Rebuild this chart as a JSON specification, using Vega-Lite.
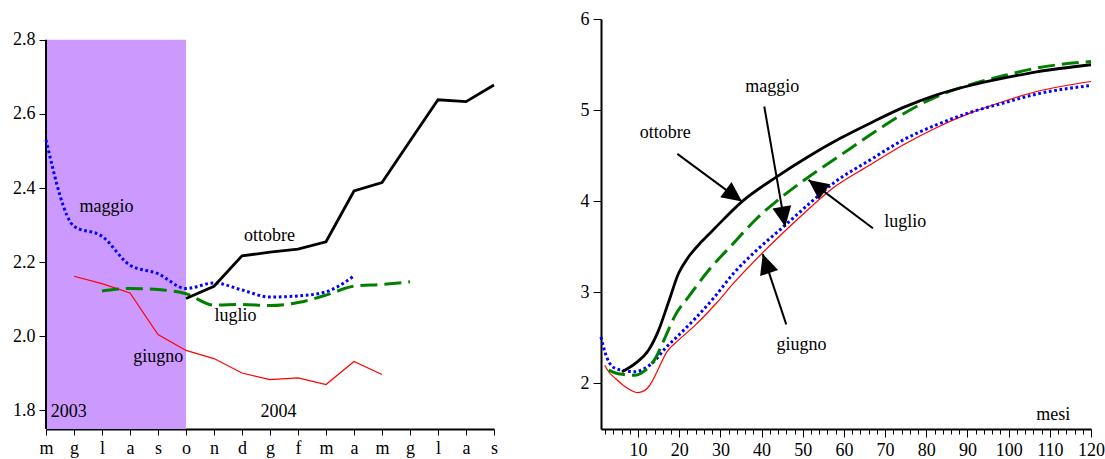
{
  "$schema": "https://vega.github.io/schema/vega-lite/v6.json",
  "background": "white",
  "padding": {"left": 12, "top": 10, "right": 0, "bottom": 0},
  "bounds": "flush",
  "spacing": 107,
  "config": {
    "font": "Liberation Serif",
    "view": {"stroke": null},
    "axis": {
      "labelFont": "Liberation Serif",
      "labelFontSize": 18,
      "labelColor": "#000",
      "tickColor": "#000",
      "domainColor": "#000",
      "domainWidth": 2,
      "tickWidth": 1,
      "grid": false,
      "title": null,
      "labelFlush": false,
      "labelOverlap": false
    },
    "text": {"font": "Liberation Serif", "fontSize": 18, "color": "#000"}
  },
  "datasets": {
    "periodo": [
      {"anno": "2003", "pos": 0, "pos_fine": 5, "valore": 2.8, "valore_fine": 1.75}
    ],
    "asse_sx": [
      {"pos": 0, "valore": 1.75, "valore_fine": 2.8}
    ],
    "sinistra": [
      {"serie": "maggio", "pos": 0, "valore": 2.53},
      {"serie": "maggio", "pos": 1, "valore": 2.297},
      {"serie": "maggio", "pos": 2, "valore": 2.27},
      {"serie": "maggio", "pos": 3, "valore": 2.192},
      {"serie": "maggio", "pos": 4, "valore": 2.169},
      {"serie": "maggio", "pos": 5, "valore": 2.129},
      {"serie": "maggio", "pos": 6, "valore": 2.144},
      {"serie": "maggio", "pos": 7, "valore": 2.125},
      {"serie": "maggio", "pos": 8, "valore": 2.106},
      {"serie": "maggio", "pos": 9, "valore": 2.109},
      {"serie": "maggio", "pos": 10, "valore": 2.12},
      {"serie": "maggio", "pos": 11, "valore": 2.163},
      {"serie": "luglio", "pos": 2, "valore": 2.122},
      {"serie": "luglio", "pos": 3, "valore": 2.129},
      {"serie": "luglio", "pos": 4, "valore": 2.126},
      {"serie": "luglio", "pos": 5, "valore": 2.115},
      {"serie": "luglio", "pos": 6, "valore": 2.084},
      {"serie": "luglio", "pos": 7, "valore": 2.086},
      {"serie": "luglio", "pos": 8, "valore": 2.083},
      {"serie": "luglio", "pos": 9, "valore": 2.091},
      {"serie": "luglio", "pos": 10, "valore": 2.111},
      {"serie": "luglio", "pos": 11, "valore": 2.135},
      {"serie": "luglio", "pos": 12, "valore": 2.14},
      {"serie": "luglio", "pos": 13, "valore": 2.147},
      {"serie": "ottobre", "pos": 5, "valore": 2.102},
      {"serie": "ottobre", "pos": 6, "valore": 2.135},
      {"serie": "ottobre", "pos": 7, "valore": 2.217},
      {"serie": "ottobre", "pos": 8, "valore": 2.227},
      {"serie": "ottobre", "pos": 9, "valore": 2.235},
      {"serie": "ottobre", "pos": 10, "valore": 2.255},
      {"serie": "ottobre", "pos": 11, "valore": 2.392},
      {"serie": "ottobre", "pos": 12, "valore": 2.415},
      {"serie": "ottobre", "pos": 13, "valore": 2.527},
      {"serie": "ottobre", "pos": 14, "valore": 2.638},
      {"serie": "ottobre", "pos": 15, "valore": 2.633},
      {"serie": "ottobre", "pos": 16, "valore": 2.678},
      {"serie": "giugno", "pos": 1, "valore": 2.162},
      {"serie": "giugno", "pos": 2, "valore": 2.142},
      {"serie": "giugno", "pos": 3, "valore": 2.117},
      {"serie": "giugno", "pos": 4, "valore": 2.005},
      {"serie": "giugno", "pos": 5, "valore": 1.962},
      {"serie": "giugno", "pos": 6, "valore": 1.94},
      {"serie": "giugno", "pos": 7, "valore": 1.901},
      {"serie": "giugno", "pos": 8, "valore": 1.883},
      {"serie": "giugno", "pos": 9, "valore": 1.888},
      {"serie": "giugno", "pos": 10, "valore": 1.87},
      {"serie": "giugno", "pos": 11, "valore": 1.932},
      {"serie": "giugno", "pos": 12, "valore": 1.897}
    ],
    "etichette_sx": [
      {"testo": "maggio", "pos": 2.16, "valore": 2.335},
      {"testo": "ottobre", "pos": 7.98, "valore": 2.257},
      {"testo": "luglio", "pos": 6.77, "valore": 2.041},
      {"testo": "giugno", "pos": 4.01, "valore": 1.93},
      {"testo": "2003", "pos": 0.81, "valore": 1.782},
      {"testo": "2004", "pos": 8.3, "valore": 1.782}
    ],
    "destra": [
      {"serie": "maggio", "mese": 1, "valore": 2.51},
      {"serie": "maggio", "mese": 2, "valore": 2.34},
      {"serie": "maggio", "mese": 3, "valore": 2.23},
      {"serie": "maggio", "mese": 4.5, "valore": 2.165},
      {"serie": "maggio", "mese": 6.9, "valore": 2.14},
      {"serie": "maggio", "mese": 9.35, "valore": 2.128},
      {"serie": "maggio", "mese": 11.8, "valore": 2.17},
      {"serie": "maggio", "mese": 14.2, "valore": 2.256},
      {"serie": "maggio", "mese": 16.6, "valore": 2.385},
      {"serie": "maggio", "mese": 19.05, "valore": 2.494},
      {"serie": "maggio", "mese": 23.9, "valore": 2.714},
      {"serie": "maggio", "mese": 28.6, "valore": 2.95},
      {"serie": "maggio", "mese": 33.2, "valore": 3.209},
      {"serie": "maggio", "mese": 39, "valore": 3.47},
      {"serie": "maggio", "mese": 45.3, "valore": 3.72},
      {"serie": "maggio", "mese": 51, "valore": 3.95},
      {"serie": "maggio", "mese": 57.5, "valore": 4.2},
      {"serie": "maggio", "mese": 66.4, "valore": 4.454},
      {"serie": "maggio", "mese": 74.45, "valore": 4.674},
      {"serie": "maggio", "mese": 82.55, "valore": 4.84},
      {"serie": "maggio", "mese": 90.6, "valore": 4.974},
      {"serie": "maggio", "mese": 98.7, "valore": 5.077},
      {"serie": "maggio", "mese": 106.8, "valore": 5.176},
      {"serie": "maggio", "mese": 120, "valore": 5.27},
      {"serie": "giugno", "mese": 1.9, "valore": 2.2},
      {"serie": "giugno", "mese": 3, "valore": 2.12},
      {"serie": "giugno", "mese": 4.5, "valore": 2.055},
      {"serie": "giugno", "mese": 6.9, "valore": 1.963},
      {"serie": "giugno", "mese": 8.5, "valore": 1.92},
      {"serie": "giugno", "mese": 9.76, "valore": 1.9},
      {"serie": "giugno", "mese": 11, "valore": 1.91},
      {"serie": "giugno", "mese": 12.2, "valore": 1.945},
      {"serie": "giugno", "mese": 13.4, "valore": 2.02},
      {"serie": "giugno", "mese": 14.6, "valore": 2.128},
      {"serie": "giugno", "mese": 17, "valore": 2.347},
      {"serie": "giugno", "mese": 19.85, "valore": 2.476},
      {"serie": "giugno", "mese": 23.9, "valore": 2.64},
      {"serie": "giugno", "mese": 29, "valore": 2.88},
      {"serie": "giugno", "mese": 33.2, "valore": 3.1},
      {"serie": "giugno", "mese": 40.5, "valore": 3.446},
      {"serie": "giugno", "mese": 49.4, "valore": 3.83},
      {"serie": "giugno", "mese": 57.5, "valore": 4.15},
      {"serie": "giugno", "mese": 66.4, "valore": 4.4},
      {"serie": "giugno", "mese": 74.45, "valore": 4.62},
      {"serie": "giugno", "mese": 82.55, "valore": 4.81},
      {"serie": "giugno", "mese": 90.6, "valore": 4.967},
      {"serie": "giugno", "mese": 98.7, "valore": 5.095},
      {"serie": "giugno", "mese": 106.8, "valore": 5.204},
      {"serie": "giugno", "mese": 120, "valore": 5.314},
      {"serie": "ottobre", "mese": 6.1, "valore": 2.128},
      {"serie": "ottobre", "mese": 9.35, "valore": 2.22},
      {"serie": "ottobre", "mese": 12.57, "valore": 2.366},
      {"serie": "ottobre", "mese": 15, "valore": 2.585},
      {"serie": "ottobre", "mese": 17.43, "valore": 2.897},
      {"serie": "ottobre", "mese": 19.85, "valore": 3.209},
      {"serie": "ottobre", "mese": 22.28, "valore": 3.39},
      {"serie": "ottobre", "mese": 25.5, "valore": 3.56},
      {"serie": "ottobre", "mese": 28.35, "valore": 3.69},
      {"serie": "ottobre", "mese": 35.24, "valore": 3.996},
      {"serie": "ottobre", "mese": 43.73, "valore": 4.27},
      {"serie": "ottobre", "mese": 51, "valore": 4.48},
      {"serie": "ottobre", "mese": 59.1, "valore": 4.69},
      {"serie": "ottobre", "mese": 66.4, "valore": 4.857},
      {"serie": "ottobre", "mese": 74.45, "valore": 5.03},
      {"serie": "ottobre", "mese": 82.55, "valore": 5.168},
      {"serie": "ottobre", "mese": 90.6, "valore": 5.27},
      {"serie": "ottobre", "mese": 98.7, "valore": 5.35},
      {"serie": "ottobre", "mese": 106.8, "valore": 5.42},
      {"serie": "ottobre", "mese": 120, "valore": 5.498},
      {"serie": "luglio", "mese": 2.87, "valore": 2.146},
      {"serie": "luglio", "mese": 4.5, "valore": 2.115},
      {"serie": "luglio", "mese": 6.12, "valore": 2.1},
      {"serie": "luglio", "mese": 9.35, "valore": 2.09},
      {"serie": "luglio", "mese": 11.77, "valore": 2.146},
      {"serie": "luglio", "mese": 14.2, "valore": 2.275},
      {"serie": "luglio", "mese": 16.63, "valore": 2.512},
      {"serie": "luglio", "mese": 19.05, "valore": 2.75},
      {"serie": "luglio", "mese": 22.28, "valore": 2.952},
      {"serie": "luglio", "mese": 27.2, "valore": 3.245},
      {"serie": "luglio", "mese": 33.2, "valore": 3.54},
      {"serie": "luglio", "mese": 38.88, "valore": 3.813},
      {"serie": "luglio", "mese": 45, "valore": 4.05},
      {"serie": "luglio", "mese": 51, "valore": 4.253},
      {"serie": "luglio", "mese": 59, "valore": 4.5},
      {"serie": "luglio", "mese": 66.4, "valore": 4.729},
      {"serie": "luglio", "mese": 74.45, "valore": 4.96},
      {"serie": "luglio", "mese": 82.55, "valore": 5.149},
      {"serie": "luglio", "mese": 90.6, "valore": 5.278},
      {"serie": "luglio", "mese": 98.7, "valore": 5.377},
      {"serie": "luglio", "mese": 106.8, "valore": 5.462},
      {"serie": "luglio", "mese": 120, "valore": 5.534}
    ],
    "etichette_dx": [
      {"testo": "ottobre", "mese": 16.63, "valore": 4.696},
      {"testo": "maggio", "mese": 42.57, "valore": 5.196},
      {"testo": "luglio", "mese": 74.9, "valore": 3.712},
      {"testo": "giugno", "mese": 49.7, "valore": 2.371},
      {"testo": "mesi", "mese": 110.85, "valore": 1.604}
    ],
    "frecce": [
      {"serie": "ottobre", "mese": 35.24, "valore": 3.996, "mese_coda": 19.54, "valore_coda": 4.52},
      {"serie": "maggio", "mese": 45.75, "valore": 3.721, "mese_coda": 40.65, "valore_coda": 5.04},
      {"serie": "luglio", "mese": 51.4, "valore": 4.234, "mese_coda": 67.03, "valore_coda": 3.703},
      {"serie": "giugno", "mese": 40.29, "valore": 3.42, "mese_coda": 45.99, "valore_coda": 2.648}
    ]
  },
  "hconcat": [
    {
      "width": 448,
      "height": 410,
      "encoding": {
        "x": {
          "field": "pos",
          "type": "quantitative",
          "scale": {"domain": [0, 16], "nice": false, "zero": false},
          "axis": {
            "values": [0, 1, 2, 3, 4, 5, 6, 7, 8, 9, 10, 11, 12, 13, 14, 15, 16],
            "labelExpr": "['m','g','l','a','s','o','n','d','g','f','m','a','m','g','l','a','s'][datum.value]",
            "tickSize": 6,
            "labelPadding": 4
          }
        },
        "y": {
          "field": "valore",
          "type": "quantitative",
          "scale": {"domain": [1.75, 2.856], "nice": false, "zero": false},
          "axis": {
            "values": [1.8, 2.0, 2.2, 2.4, 2.6, 2.8],
            "format": ".1f",
            "domain": false,
            "tickSize": 7,
            "labelPadding": 4
          }
        }
      },
      "layer": [
        {
          "data": {"name": "periodo"},
          "mark": {"type": "rect", "color": "#CC99FF"},
          "encoding": {
            "x2": {"field": "pos_fine"},
            "y2": {"field": "valore_fine"}
          }
        },
        {
          "data": {"name": "asse_sx"},
          "mark": {"type": "rule", "color": "#000", "strokeWidth": 2},
          "encoding": {
            "y2": {"field": "valore_fine"}
          }
        },
        {
          "data": {"name": "sinistra"},
          "transform": [{"filter": "datum.serie === 'giugno'"}],
          "mark": {"type": "line", "color": "#FF0000", "strokeWidth": 1.2}
        },
        {
          "data": {"name": "sinistra"},
          "transform": [{"filter": "datum.serie === 'luglio'"}],
          "mark": {"type": "line", "color": "#008000", "strokeWidth": 3, "strokeDash": [17, 7], "interpolate": "monotone"}
        },
        {
          "data": {"name": "sinistra"},
          "transform": [{"filter": "datum.serie === 'maggio'"}],
          "mark": {"type": "line", "color": "#0000FF", "strokeWidth": 3, "strokeDash": [2.7, 2.7], "interpolate": "monotone"}
        },
        {
          "data": {"name": "sinistra"},
          "transform": [{"filter": "datum.serie === 'ottobre'"}],
          "mark": {"type": "line", "color": "#000000", "strokeWidth": 2.8}
        },
        {
          "data": {"name": "etichette_sx"},
          "mark": {"type": "text", "align": "center", "baseline": "alphabetic", "fontSize": 18},
          "encoding": {
            "text": {"field": "testo"}
          }
        }
      ]
    },
    {
      "width": 490,
      "height": 410,
      "encoding": {
        "x": {
          "field": "mese",
          "type": "quantitative",
          "scale": {"domain": [1, 120], "nice": false, "zero": false},
          "axis": {
            "values": [2, 4, 6, 8, 10, 12, 14, 16, 18, 20, 22, 24, 26, 28, 30, 32, 34, 36, 38, 40, 42, 44, 46, 48, 50, 52, 54, 56, 58, 60, 62, 64, 66, 68, 70, 72, 74, 76, 78, 80, 82, 84, 86, 88, 90, 92, 94, 96, 98, 100, 102, 104, 106, 108, 110, 112, 114, 116, 118, 120],
            "labelExpr": "datum.value % 10 === 0 ? datum.label : ''",
            "tickSize": {"condition": {"test": "datum.value % 10 === 0", "value": 8}, "value": 5},
            "labelPadding": 4
          }
        },
        "y": {
          "field": "valore",
          "type": "quantitative",
          "scale": {"domain": [1.5, 6], "nice": false, "zero": false},
          "axis": {
            "values": [2, 3, 4, 5, 6],
            "format": "d",
            "tickSize": 8,
            "labelPadding": 4
          }
        }
      },
      "layer": [
        {
          "data": {"name": "destra"},
          "transform": [{"filter": "datum.serie === 'giugno'"}],
          "mark": {"type": "line", "color": "#FF0000", "strokeWidth": 1.2, "interpolate": "monotone"}
        },
        {
          "data": {"name": "destra"},
          "transform": [{"filter": "datum.serie === 'maggio'"}],
          "mark": {"type": "line", "color": "#0000FF", "strokeWidth": 3, "strokeDash": [2.7, 2.7], "interpolate": "monotone"}
        },
        {
          "data": {"name": "destra"},
          "transform": [{"filter": "datum.serie === 'luglio'"}],
          "mark": {"type": "line", "color": "#008000", "strokeWidth": 3, "strokeDash": [17, 7], "interpolate": "monotone"}
        },
        {
          "data": {"name": "destra"},
          "transform": [{"filter": "datum.serie === 'ottobre'"}],
          "mark": {"type": "line", "color": "#000000", "strokeWidth": 2.8, "interpolate": "monotone"}
        },
        {
          "data": {"name": "frecce"},
          "mark": {"type": "rule", "color": "#000", "strokeWidth": 2},
          "encoding": {
            "x2": {"field": "mese_coda"},
            "y2": {"field": "valore_coda"}
          }
        },
        {
          "data": {"name": "frecce"},
          "transform": [{"filter": "datum.serie === 'ottobre'"}],
          "mark": {"type": "point", "shape": "M0,0L-0.95,2L0.95,2Z", "size": 400, "filled": true, "color": "#000", "opacity": 1, "strokeWidth": 0, "angle": 126.4}
        },
        {
          "data": {"name": "frecce"},
          "transform": [{"filter": "datum.serie === 'maggio'"}],
          "mark": {"type": "point", "shape": "M0,0L-0.95,2L0.95,2Z", "size": 400, "filled": true, "color": "#000", "opacity": 1, "strokeWidth": 0, "angle": 170.1}
        },
        {
          "data": {"name": "frecce"},
          "transform": [{"filter": "datum.serie === 'luglio'"}],
          "mark": {"type": "point", "shape": "M0,0L-0.95,2L0.95,2Z", "size": 400, "filled": true, "color": "#000", "opacity": 1, "strokeWidth": 0, "angle": 306.9}
        },
        {
          "data": {"name": "frecce"},
          "transform": [{"filter": "datum.serie === 'giugno'"}],
          "mark": {"type": "point", "shape": "M0,0L-0.95,2L0.95,2Z", "size": 400, "filled": true, "color": "#000", "opacity": 1, "strokeWidth": 0, "angle": 341.5}
        },
        {
          "data": {"name": "etichette_dx"},
          "mark": {"type": "text", "align": "center", "baseline": "alphabetic", "fontSize": 18},
          "encoding": {
            "text": {"field": "testo"}
          }
        }
      ]
    }
  ]
}
